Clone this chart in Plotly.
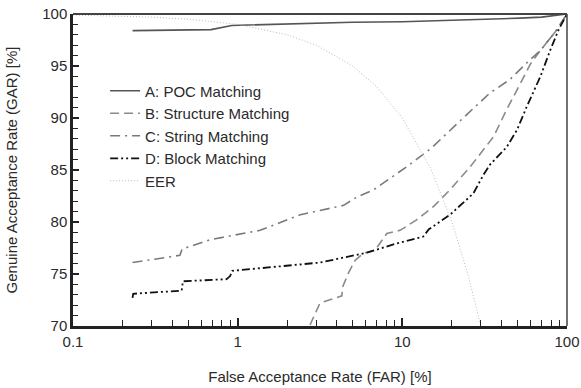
import plotly.graph_objects as go

# A: POC Matching
a_far = [0.23, 0.69, 0.92, 1.5, 2.4, 5, 10, 17, 30, 52, 70, 91, 100]
a_gar = [98.4, 98.5, 98.9, 99.0, 99.1, 99.2, 99.25, 99.35, 99.5, 99.6, 99.7, 99.9, 100]

# B: Structure Matching
b_far = [2.75, 3.16, 4.29, 4.35, 4.71, 5.16, 5.8, 6.84, 8.05, 9.7, 12.2, 15.5, 19.5, 25.8, 35.8, 43, 52, 60, 69, 85, 100]
b_gar = [70.1, 72.2, 72.9, 73.8, 75.1, 76.3, 77.0, 77.3, 78.9, 79.2, 80.2, 81.5, 83.1, 85.3, 88.2, 90.8, 93.3, 95.2, 96.5, 98.3, 100]

# C: String Matching
c_far = [0.23, 0.446, 0.46, 0.68, 1.37, 2.4, 4.4, 5.3, 6.7, 10.6, 15, 19.3, 23.4, 34, 45, 57, 69, 87, 100]
c_gar = [76.1, 76.8, 77.4, 78.3, 79.2, 80.7, 81.6, 82.4, 83.1, 85.3, 87.1, 88.8, 90.0, 92.4, 93.7, 95.3, 96.5, 98.5, 100]

# D: Block Matching
d_far = [0.23, 0.232, 0.457, 0.46, 0.465, 0.857, 0.9, 0.927, 3.16, 6.1, 9.26, 13.4, 14.5, 19.5, 27, 31, 34, 43, 49.7, 57, 69, 79, 89, 100]
d_gar = [72.7, 73.1, 73.4, 73.85, 74.3, 74.5, 74.8, 75.3, 76.1, 77.05, 77.95, 78.6, 79.3, 80.7, 82.75, 84.5, 85.5, 87.2, 88.85, 91.1, 94.0, 96.5, 98.5, 100]

# EER
e_far = [0.1, 0.3, 0.5, 1, 2, 3, 5, 7, 10, 15, 20, 25, 30]
e_gar = [99.9, 99.7, 99.5, 99, 98, 97, 95, 93, 90, 85, 80, 75, 70]

x_ticks = [0.1, 1, 10, 100]
x_ticktext = ["0.1", "1", "10", "100"]
x_minor = [0.2, 0.3, 0.4, 0.5, 0.6, 0.7, 0.8, 0.9, 2, 3, 4, 5, 6, 7, 8, 9,
           20, 30, 40, 50, 60, 70, 80, 90]
y_ticks = [70, 75, 80, 85, 90, 95, 100]

FONT = "Liberation Sans, Arial, sans-serif"
TXT = "#2a2a2a"

fig = go.Figure()
fig.add_trace(go.Scatter(x=a_far, y=a_gar, mode="lines", name="A: POC Matching",
                         line=dict(color="#555555", width=1.6)))
fig.add_trace(go.Scatter(x=b_far, y=b_gar, mode="lines", name="B: Structure Matching",
                         line=dict(color="#8a8a8a", width=1.6, dash="9px,5px")))
fig.add_trace(go.Scatter(x=c_far, y=c_gar, mode="lines", name="C: String Matching",
                         line=dict(color="#7a7a7a", width=1.6, dash="10px,5px,2px,5px")))
fig.add_trace(go.Scatter(x=d_far, y=d_gar, mode="lines", name="D: Block Matching",
                         line=dict(color="#111111", width=1.8, dash="8px,3px,2px,3px,2px,3px")))
fig.add_trace(go.Scatter(x=e_far, y=e_gar, mode="lines", name="EER",
                         line=dict(color="#bbbbbb", width=1, dash="1px,2px")))

fig.update_layout(
    width=581, height=388,
    margin=dict(l=73, r=14, t=14, b=62),
    paper_bgcolor="white", plot_bgcolor="white",
    font=dict(family=FONT, size=15, color=TXT),
    showlegend=True,
    legend=dict(x=0.065, y=0.806, xanchor="left", yanchor="top",
                bgcolor="rgba(0,0,0,0)", font=dict(size=15, color=TXT),
                tracegroupgap=0),
    xaxis=dict(type="log", range=[-1, 2], showgrid=False, zeroline=False, automargin=False,
               tickvals=x_ticks, ticktext=x_ticktext,
               ticks="inside", ticklen=8, tickwidth=1.5, tickcolor="#222",
               minor=dict(ticks="inside", ticklen=6, tickwidth=1.2, tickcolor="#222",
                          tickvals=x_minor, showgrid=False),
               showline=True, linecolor="#222", linewidth=2.5,
               tickfont=dict(size=15, color=TXT),
               title=dict(text="False Acceptance Rate (FAR) [%]", font=dict(size=15, color=TXT),
                          standoff=23)),
    yaxis=dict(range=[70, 100], showgrid=False, zeroline=False, automargin=False,
               tickvals=y_ticks,
               ticks="inside", ticklen=6, tickwidth=1.5, tickcolor="#222",
               minor=dict(ticks="inside", ticklen=5, tickwidth=1.2, tickcolor="#222",
                          dtick=1, showgrid=False),
               showline=True, linecolor="#222", linewidth=2.5,
               tickfont=dict(size=15, color=TXT),
               title=dict(text="Genuine Acceptance Rate (GAR) [%]", font=dict(size=15, color=TXT),
                          standoff=21)),
)
fig.add_shape(type="line", xref="paper", yref="paper", x0=0, x1=1, y0=1, y1=1,
              line=dict(color="#444", width=2))
fig.add_shape(type="line", xref="paper", yref="paper", x0=1, x1=1, y0=0, y1=1,
              line=dict(color="#444", width=1.5))

fig.write_html("out.html", config={"displayModeBar": False},
               post_script="document.body.style.margin='0';")
